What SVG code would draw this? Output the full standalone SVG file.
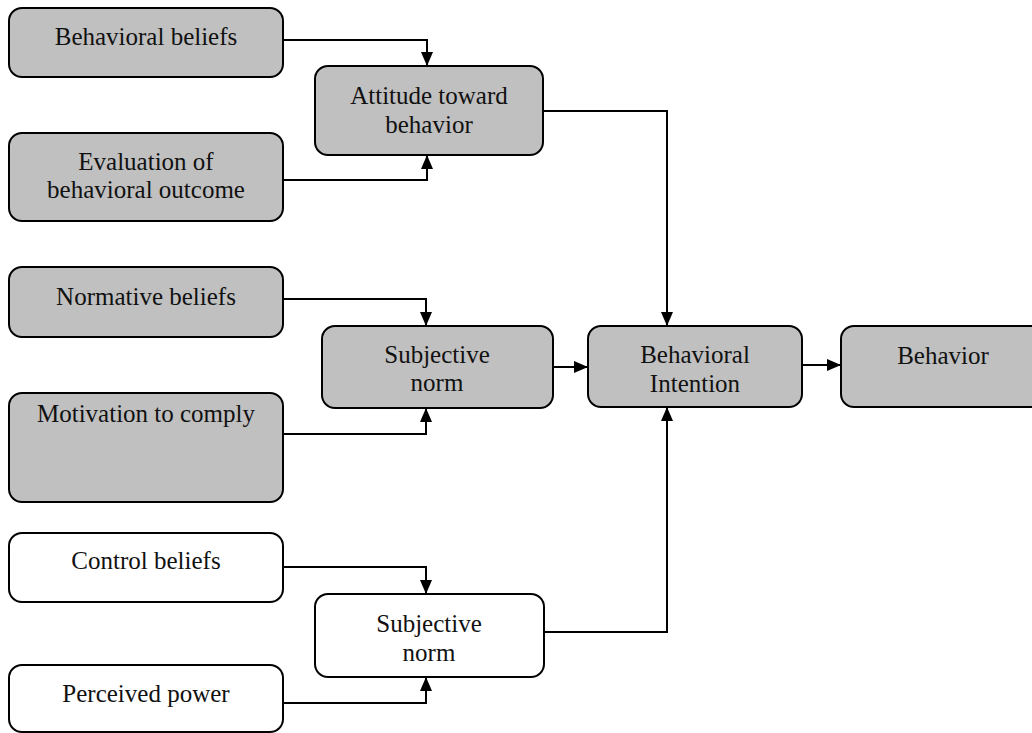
<svg xmlns="http://www.w3.org/2000/svg" width="1032" height="733" viewBox="0 0 1032 733">
<style>
.box{stroke:#000;stroke-width:2;}
.g{fill:#c0c0c0;}
.w{fill:#fff;}
text{font-family:"Liberation Serif","Times New Roman",serif;font-size:25px;fill:#111;text-anchor:middle;}
.c{fill:none;stroke:#000;stroke-width:2;marker-end:url(#ah);}
</style>
<defs>
<marker id="ah" markerUnits="userSpaceOnUse" markerWidth="14" markerHeight="14" viewBox="0 0 14 14" refX="14" refY="7" orient="auto">
<path d="M0,1 L14,7 L0,13 Z" fill="#000"/>
</marker>
</defs>
<rect width="1032" height="733" fill="#fff"/>
<g id="connectors">
<path class="c" d="M283,40 H427 V66"/>
<path class="c" d="M283,180 H427 V155"/>
<path class="c" d="M543,111 H667 V326"/>
<path class="c" d="M283,299 H426 V326"/>
<path class="c" d="M283,434 H426 V408"/>
<path class="c" d="M553,367 H588"/>
<path class="c" d="M802,365 H841"/>
<path class="c" d="M283,567 H426 V594"/>
<path class="c" d="M283,703 H426 V677"/>
<path class="c" d="M544,632 H667 V407"/>
</g>
<g id="behavioral-beliefs"><rect class="box g" x="9" y="8" width="274" height="69" rx="13"/><text x="146" y="45">Behavioral beliefs</text></g>
<g id="evaluation"><rect class="box g" x="9" y="133" width="274" height="88" rx="13"/><text x="146" y="170">Evaluation of</text><text x="146" y="198">behavioral outcome</text></g>
<g id="attitude"><rect class="box g" x="315" y="66" width="228" height="89" rx="13"/><text x="429" y="104">Attitude toward</text><text x="429" y="133">behavior</text></g>
<g id="normative-beliefs"><rect class="box g" x="9" y="267" width="274" height="70" rx="13"/><text x="146" y="305">Normative beliefs</text></g>
<g id="subjective-norm"><rect class="box g" x="322" y="326" width="231" height="82" rx="13"/><text x="437" y="363">Subjective</text><text x="437" y="391">norm</text></g>
<g id="motivation"><rect class="box g" x="9" y="393" width="274" height="109" rx="13"/><text x="146" y="422">Motivation to comply</text></g>
<g id="behavioral-intention"><rect class="box g" x="588" y="326" width="214" height="81" rx="13"/><text x="695" y="363">Behavioral</text><text x="695" y="392">Intention</text></g>
<g id="behavior"><rect class="box g" x="841" y="326" width="205" height="81" rx="13"/><text x="943" y="364">Behavior</text></g>
<g id="control-beliefs"><rect class="box w" x="9" y="533" width="274" height="69" rx="13"/><text x="146" y="569">Control beliefs</text></g>
<g id="subjective-norm-2"><rect class="box w" x="315" y="594" width="229" height="83" rx="13"/><text x="429" y="632">Subjective</text><text x="429" y="661">norm</text></g>
<g id="perceived-power"><rect class="box w" x="9" y="665" width="274" height="67" rx="13"/><text x="146" y="702">Perceived power</text></g>
</svg>
